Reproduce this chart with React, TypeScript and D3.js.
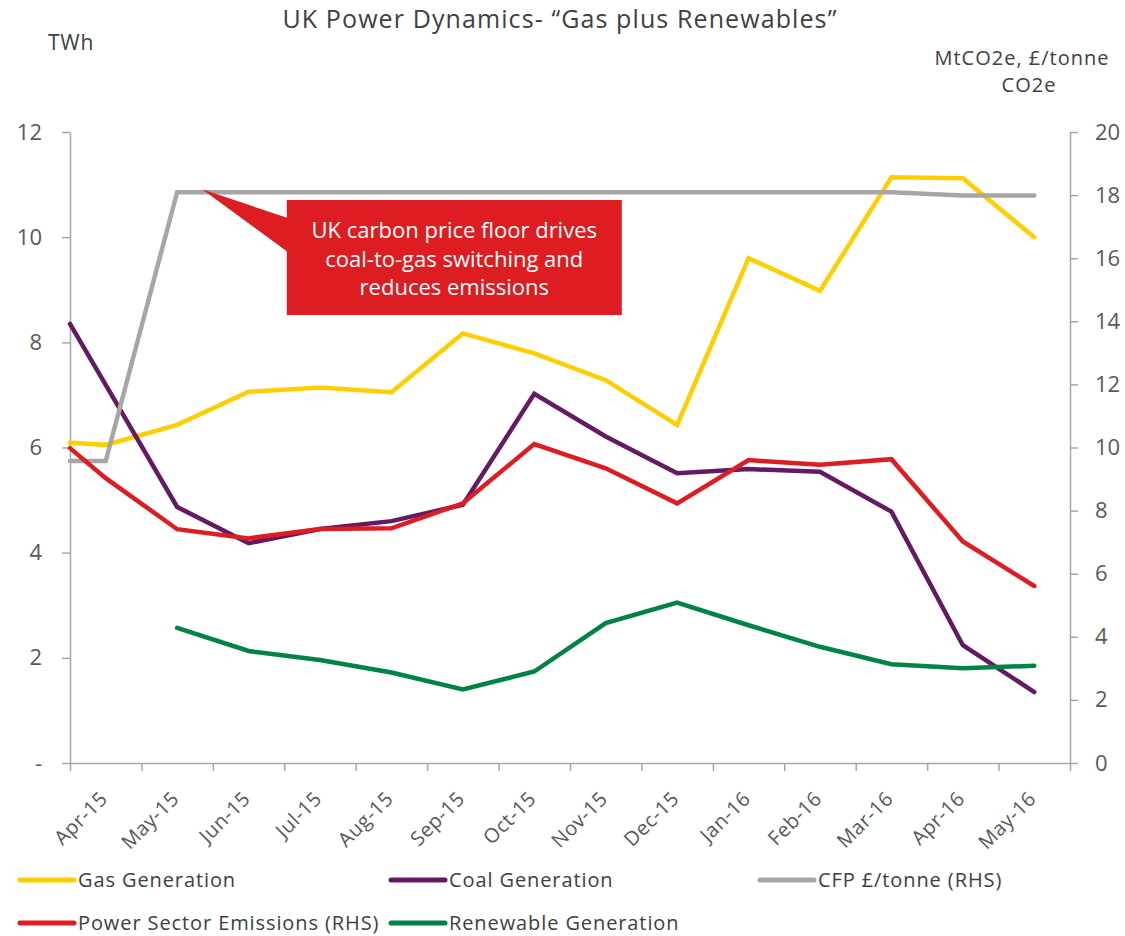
import { useEffect, useRef } from "react";
import * as d3 from "d3";

const WIDTH = 1125;
const HEIGHT = 936;
const MARGIN = { top: 132, right: 55, bottom: 173, left: 70 };
const FONT = "'Open Sans', sans-serif";
const TEXT_COLOR = "#404040";
const TICK_COLOR = "#595959";
const AXIS_COLOR = "#A6A6A6";

const months = [
  "Apr-15", "May-15", "Jun-15", "Jul-15", "Aug-15", "Sep-15", "Oct-15",
  "Nov-15", "Dec-15", "Jan-16", "Feb-16", "Mar-16", "Apr-16", "May-16",
];

// first value of each series is where the line meets the left axis, then one per month
const gasGeneration = [6.09, 6.05, 6.43, 7.06, 7.14, 7.05, 8.17, 7.79, 7.28, 6.43, 9.6, 8.98, 11.14, 11.12, 10.0];
const coalGeneration = [8.35, 7.19, 4.87, 4.18, 4.45, 4.6, 4.91, 7.02, 6.21, 5.51, 5.59, 5.54, 4.78, 2.24, 1.35];
const cfpPrice = [9.57, 9.57, 18.09, 18.09, 18.09, 18.09, 18.09, 18.09, 18.09, 18.09, 18.09, 18.09, 18.09, 17.99, 17.99];
const powerEmissions = [9.98, 9.03, 7.41, 7.12, 7.42, 7.44, 8.23, 10.11, 9.34, 8.23, 9.6, 9.45, 9.63, 7.02, 5.61];
const renewableGeneration = [null, null, 2.57, 2.13, 1.96, 1.72, 1.4, 1.74, 2.66, 3.05, 2.62, 2.21, 1.88, 1.8, 1.85];

const leftTicks = [0, 2, 4, 6, 8, 10, 12];
const rightTicks = [0, 2, 4, 6, 8, 10, 12, 14, 16, 18, 20];

type Series = { name: string; color: string; values: (number | null)[]; axis: "left" | "right" };

const series: Series[] = [
  { name: "Gas Generation", color: "#FFCE00", values: gasGeneration, axis: "left" },
  { name: "Coal Generation", color: "#641964", values: coalGeneration, axis: "left" },
  { name: "CFP £/tonne (RHS)", color: "#A6A6A6", values: cfpPrice, axis: "right" },
  { name: "Power Sector Emissions (RHS)", color: "#DD1D21", values: powerEmissions, axis: "right" },
  { name: "Renewable Generation", color: "#008443", values: renewableGeneration, axis: "left" },
];

const annotationLines = ["UK carbon price floor drives", "coal-to-gas switching and", "reduces emissions"];

export default function App() {
  const leftAxisRef = useRef<SVGGElement>(null);
  const rightAxisRef = useRef<SVGGElement>(null);
  const bottomAxisRef = useRef<SVGGElement>(null);

  const x = d3
    .scaleLinear()
    .domain([-0.5, months.length - 0.5])
    .range([MARGIN.left, WIDTH - MARGIN.right]);
  const yLeft = d3.scaleLinear().domain([0, 12]).range([HEIGHT - MARGIN.bottom, MARGIN.top]);
  const yRight = d3.scaleLinear().domain([0, 20]).range([HEIGHT - MARGIN.bottom, MARGIN.top]);

  // the extra leading point sits on the left axis
  const xPositions = [-0.5, ...months.map((_, i) => i)];

  useEffect(() => {
    const styleAxis = (g: any) => {
      g.attr("font-family", FONT).attr("font-size", 22);
      g.select(".domain").attr("stroke", AXIS_COLOR).attr("stroke-width", 1.5);
      g.selectAll(".tick line").attr("stroke", AXIS_COLOR).attr("stroke-width", 1.5);
      g.selectAll(".tick text").attr("fill", TICK_COLOR);
    };

    d3.select(leftAxisRef.current!)
      .call(
        d3
          .axisLeft(yLeft)
          .tickValues(leftTicks)
          .tickFormat((d) => (d === 0 ? "-" : String(d)))
          .tickSize(8)
          .tickSizeOuter(0)
          .tickPadding(20)
      )
      .call(styleAxis);

    d3.select(rightAxisRef.current!)
      .call(
        d3
          .axisRight(yRight)
          .tickValues(rightTicks)
          .tickFormat((d) => String(d))
          .tickSize(8)
          .tickSizeOuter(0)
          .tickPadding(17)
      )
      .call(styleAxis);

    d3.select(bottomAxisRef.current!)
      .call(
        d3
          .axisBottom(x)
          .tickValues(d3.range(-0.5, months.length, 1))
          .tickFormat(() => "")
          .tickSize(8)
          .tickSizeOuter(0)
      )
      .call(styleAxis);
  }, []);

  const lines = series.map((s) => {
    const y = s.axis === "left" ? yLeft : yRight;
    const gen = d3
      .line<number | null>()
      .defined((d) => d != null)
      .x((_, i) => x(xPositions[i]))
      .y((d) => y(d as number));
    return (
      <path
        key={s.name}
        d={gen(s.values) || ""}
        fill="none"
        stroke={s.color}
        strokeWidth={4.5}
        strokeLinecap="round"
        strokeLinejoin="miter"
      />
    );
  });

  // callout box pointing at the CFP jump
  const boxX = x(2.5) + 2.5;
  const boxY = 200;
  const boxW = 335;
  const boxH = 115;
  const tipX = x(1.35);
  const tipY = yRight(cfpPrice[2]) - 3;

  const legendCols = [20, 391, 760];
  const legendRows = [880, 923];

  return (
    <svg
      width={WIDTH}
      height={HEIGHT}
      style={{ position: "absolute", left: 0, top: 0, background: "#fff" }}
      fontFamily={FONT}
    >
      <text x={560} y={28} textAnchor="middle" fontSize={25} letterSpacing={1.1} fill={TEXT_COLOR}>
        UK Power Dynamics- “Gas plus Renewables”
      </text>
      <text x={48} y={50} fontSize={21} letterSpacing={0.8} fill={TEXT_COLOR}>
        TWh
      </text>
      <text x={1022} y={65} textAnchor="middle" fontSize={20} letterSpacing={1} fill={TEXT_COLOR}>
        MtCO2e, £/tonne
      </text>
      <text x={1029} y={92} textAnchor="middle" fontSize={20} letterSpacing={1} fill={TEXT_COLOR}>
        CO2e
      </text>

      <g ref={leftAxisRef} transform={`translate(${MARGIN.left},0)`} />
      <g ref={rightAxisRef} transform={`translate(${WIDTH - MARGIN.right},0)`} />
      <g ref={bottomAxisRef} transform={`translate(0,${HEIGHT - MARGIN.bottom})`} />

      {months.map((m, i) => (
        <text
          key={m}
          transform={`translate(${x(i) + 3},${HEIGHT - MARGIN.bottom + 37}) rotate(-45)`}
          textAnchor="end"
          fontSize={20}
          letterSpacing={0.5}
          fill={TICK_COLOR}
        >
          {m}
        </text>
      ))}

      {lines}

      <polygon
        points={`${tipX},${tipY} ${boxX + 1},${boxY + 18} ${boxX + 1},${boxY + 52}`}
        fill="#DD1D21"
      />
      <rect x={boxX} y={boxY} width={boxW} height={boxH} fill="#DD1D21" />
      {annotationLines.map((t, i) => (
        <text
          key={t}
          x={boxX + boxW / 2}
          y={boxY + 38 + i * 28.5}
          textAnchor="middle"
          fontSize={22}
          fill="#fff"
        >
          {t}
        </text>
      ))}

      {series.map((s, i) => {
        const lx = legendCols[i % 3];
        const ly = legendRows[Math.floor(i / 3)];
        return (
          <g key={s.name} transform={`translate(${lx},${ly})`}>
            <line x1={0} x2={54} y1={0} y2={0} stroke={s.color} strokeWidth={5} strokeLinecap="round" />
            <text x={58} y={7} fontSize={20} letterSpacing={0.9} fill={TEXT_COLOR}>
              {s.name}
            </text>
          </g>
        );
      })}
    </svg>
  );
}
